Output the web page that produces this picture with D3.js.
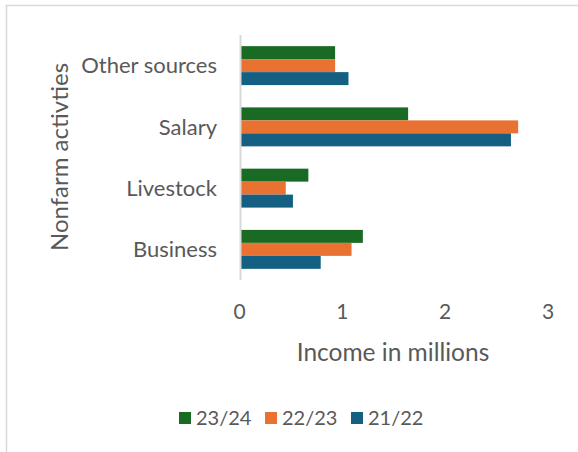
<!DOCTYPE html>
<html>
<head>
<meta charset="utf-8">
<script src="https://cdn.jsdelivr.net/npm/d3@7"></script>
<style>
  body { margin: 0; background: #fff; }
  text { font-family: Lato, "Open Sans", sans-serif; fill: #595959; }
</style>
</head>
<body>
<div id="chart"></div>
<script>
// categories top to bottom
const categories = ['Other sources', 'Salary', 'Livestock', 'Business'];
const seriesNames = ['23/24', '22/23', '21/22'];
const values2324 = [0.92, 1.63, 0.66, 1.19];
const values2223 = [0.92, 2.70, 0.44, 1.08];
const values2122 = [1.05, 2.63, 0.51, 0.78];
const xTicks = [0, 1, 2, 3];
const colors = ['#196b24', '#e97132', '#156082'];

const seriesValues = [values2324, values2223, values2122];
const width = 578, height = 452;

const svg = d3.select('#chart').append('svg')
  .attr('width', width)
  .attr('height', height);

// frame
svg.append('rect')
  .attr('x', 6.5).attr('y', 5.5)
  .attr('width', 600).attr('height', 600)
  .attr('fill', 'none')
  .attr('stroke', '#d9d9d9')
  .attr('stroke-width', 1.5);

const x = d3.scaleLinear().domain([0, 3]).range([240.5, 549]);
const y = d3.scaleBand().domain(categories).range([35, 280]).paddingInner(0.364).paddingOuter(0.182);
const ySub = d3.scaleBand().domain(seriesNames).range([0, y.bandwidth()]);

const groups = svg.selectAll('g.cat')
  .data(categories)
  .enter().append('g')
  .attr('class', 'cat')
  .attr('transform', d => `translate(0,${y(d)})`);

groups.selectAll('rect')
  .data((d, i) => seriesNames.map((s, j) => ({ s, v: seriesValues[j][i], c: colors[j] })))
  .enter().append('rect')
  .attr('x', x(0))
  .attr('y', d => ySub(d.s))
  .attr('width', d => x(d.v) - x(0))
  .attr('height', ySub.bandwidth())
  .attr('fill', d => d.c);

// y axis line
svg.append('line')
  .attr('x1', x(0)).attr('x2', x(0))
  .attr('y1', 35).attr('y2', 280)
  .attr('stroke', '#d9d9d9')
  .attr('stroke-width', 2);

// category labels
svg.selectAll('text.cat')
  .data(categories)
  .enter().append('text')
  .attr('class', 'cat')
  .attr('x', 217)
  .attr('y', d => y(d) + y.bandwidth() / 2)
  .attr('dy', '0.35em')
  .attr('text-anchor', 'end')
  .style('font-size', '22px')
  .text(d => d);

// x tick labels
svg.selectAll('text.tick')
  .data(xTicks)
  .enter().append('text')
  .attr('class', 'tick')
  .attr('x', d => x(d) - 1)
  .attr('y', 312)
  .attr('dy', '0.35em')
  .attr('text-anchor', 'middle')
  .style('font-size', '21px')
  .text(d => d);

// axis titles
svg.append('text')
  .attr('x', 393).attr('y', 352)
  .attr('dy', '0.35em')
  .attr('text-anchor', 'middle')
  .style('font-size', '24.5px')
  .text('Income in millions');

svg.append('text')
  .attr('transform', 'translate(60,157) rotate(-90)')
  .attr('dy', '0.35em')
  .attr('text-anchor', 'middle')
  .style('font-size', '24px')
  .text('Nonfarm activties');

// legend
const legendX = [179, 265, 351];
const legend = svg.selectAll('g.legend')
  .data(seriesNames)
  .enter().append('g')
  .attr('class', 'legend')
  .attr('transform', (d, i) => `translate(${legendX[i]},412)`);
legend.append('rect')
  .attr('width', 12).attr('height', 12)
  .attr('fill', (d, i) => colors[i]);
legend.append('text')
  .attr('x', 17).attr('y', 6)
  .attr('dy', '0.35em')
  .style('font-size', '20px')
  .text(d => d);
</script>
</body>
</html>
